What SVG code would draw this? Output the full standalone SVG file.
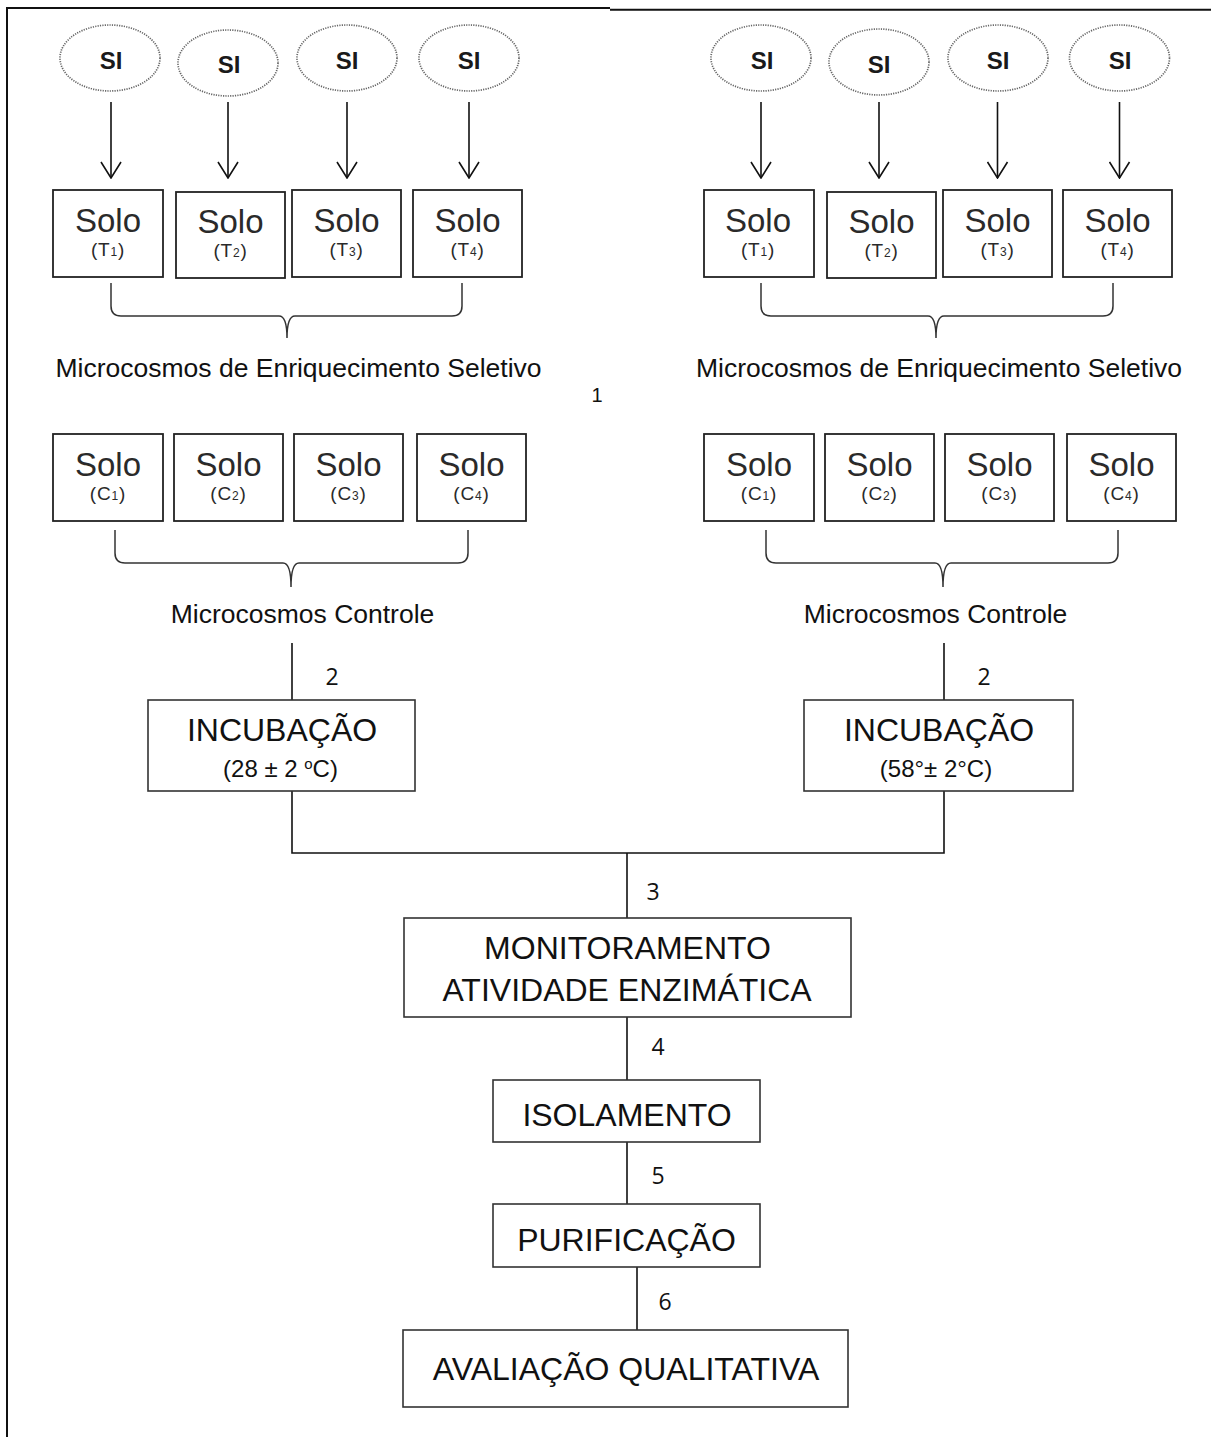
<svg xmlns="http://www.w3.org/2000/svg" width="1211" height="1437" viewBox="0 0 1211 1437">
<defs>
<style>
.box{fill:#fff;stroke:#222;stroke-width:1.8}
.pbox{fill:#fff;stroke:#333;stroke-width:1.6}
.si{fill:#fff;stroke:#666;stroke-width:1.7;stroke-dasharray:1.2 1.2}
.ln{fill:none;stroke:#111;stroke-width:1.6}
.br{fill:none;stroke:#333;stroke-width:1.5}
.border{fill:none;stroke:#111;stroke-width:2}
text{font-family:"Liberation Sans",Arial,sans-serif;fill:#111;text-anchor:middle}
.sit{font-weight:bold;font-size:24px;fill:#1a1a1a}
.solo{font-size:33px;fill:#2a2a2a}
.sub{font-size:19px;fill:#2a2a2a;letter-spacing:0.8px}
.lab{font-size:26.5px}
.num{font-family:"Open Sans","Noto Sans",sans-serif;font-size:23px}
.one{font-size:20px}
.big{font-size:32px}
.tmp{font-size:24px}
</style>
<marker id="ah" viewBox="-1 -11 18 22" refX="16" refY="0" markerWidth="18" markerHeight="22" markerUnits="userSpaceOnUse" orient="auto">
<path d="M0,-10 L16,0 L0,10" fill="none" stroke="#111" stroke-width="1.6"/>
</marker>
</defs>
<rect width="1211" height="1437" fill="#fff"/>
<g id="border">
<path class="border" d="M7,1437 L7,8 L610,8" stroke="#222" stroke-width="1.6"/>
<path class="border" d="M610,9.7 L1211,9.7"/>
</g>

<g id="connectors">
<line class="ln" x1="111" y1="102" x2="111" y2="178" marker-end="url(#ah)"/>
<line class="ln" x1="228" y1="102" x2="228" y2="178" marker-end="url(#ah)"/>
<line class="ln" x1="347" y1="102" x2="347" y2="178" marker-end="url(#ah)"/>
<line class="ln" x1="469" y1="102" x2="469" y2="178" marker-end="url(#ah)"/>
<line class="ln" x1="761" y1="102" x2="761" y2="178" marker-end="url(#ah)"/>
<line class="ln" x1="879" y1="102" x2="879" y2="178" marker-end="url(#ah)"/>
<line class="ln" x1="997.5" y1="102" x2="997.5" y2="178" marker-end="url(#ah)"/>
<line class="ln" x1="1119.5" y1="102" x2="1119.5" y2="178" marker-end="url(#ah)"/>
<path class="br" d="M111,283 L111,306 Q111,316 121,316 L279,316 Q287,316 287,338 Q287,316 295,316 L452,316 Q462,316 462,306 L462,283"/>
<path class="br" d="M761,283 L761,306 Q761,316 771,316 L928,316 Q936,316 936,338 Q936,316 944,316 L1103,316 Q1113,316 1113,306 L1113,283"/>
<path class="br" d="M115,530 L115,553 Q115,563 125,563 L283,563 Q291,563 291,587 Q291,563 299,563 L458,563 Q468,563 468,553 L468,530"/>
<path class="br" d="M766,530 L766,553 Q766,563 776,563 L935,563 Q943,563 943,587 Q943,563 951,563 L1108,563 Q1118,563 1118,553 L1118,530"/>
<line class="ln" x1="292" y1="643" x2="292" y2="700"/>
<line class="ln" x1="944" y1="643" x2="944" y2="700"/>
<path class="ln" d="M292,791 L292,853 L944,853 L944,791"/>
<line class="ln" x1="627" y1="853" x2="627" y2="918"/>
<line class="ln" x1="627" y1="1017" x2="627" y2="1080"/>
<line class="ln" x1="627" y1="1142" x2="627" y2="1204"/>
<line class="ln" x1="637" y1="1267" x2="637" y2="1330"/>
<text class="one" x="597" y="402">1</text>
<text class="num" x="332" y="685">2</text>
<text class="num" x="984" y="685">2</text>
<text class="num" x="653" y="900">3</text>
<text class="num" x="658" y="1055">4</text>
<text class="num" x="658" y="1184">5</text>
<text class="num" x="665" y="1310">6</text>
</g>

<g id="si-l1"><ellipse class="si" cx="110" cy="58" rx="50" ry="33"/><text class="sit" x="111" y="69">SI</text></g>
<g id="si-l2"><ellipse class="si" cx="228" cy="63" rx="50" ry="33"/><text class="sit" x="229" y="73">SI</text></g>
<g id="si-l3"><ellipse class="si" cx="347" cy="58" rx="50" ry="33"/><text class="sit" x="347" y="69">SI</text></g>
<g id="si-l4"><ellipse class="si" cx="469" cy="58" rx="50" ry="33"/><text class="sit" x="469" y="69">SI</text></g>
<g id="si-r1"><ellipse class="si" cx="761" cy="58" rx="50" ry="33"/><text class="sit" x="762" y="69">SI</text></g>
<g id="si-r2"><ellipse class="si" cx="879" cy="62" rx="50" ry="33"/><text class="sit" x="879" y="73">SI</text></g>
<g id="si-r3"><ellipse class="si" cx="998" cy="58" rx="50" ry="33"/><text class="sit" x="998" y="69">SI</text></g>
<g id="si-r4"><ellipse class="si" cx="1119.5" cy="58" rx="50" ry="33"/><text class="sit" x="1120" y="69">SI</text></g>

<g id="solo-lt1"><rect class="box" x="53" y="190" width="110" height="87"/><text class="solo" x="108" y="232">Solo</text><text class="sub" x="108" y="256">(T<tspan font-size="12px">1</tspan>)</text></g>
<g id="solo-lt2"><rect class="box" x="176" y="192" width="109" height="86"/><text class="solo" x="230.5" y="233">Solo</text><text class="sub" x="230.5" y="257">(T<tspan font-size="12px">2</tspan>)</text></g>
<g id="solo-lt3"><rect class="box" x="292" y="190" width="109" height="87"/><text class="solo" x="346.5" y="232">Solo</text><text class="sub" x="346.5" y="256">(T<tspan font-size="12px">3</tspan>)</text></g>
<g id="solo-lt4"><rect class="box" x="413" y="190" width="109" height="87"/><text class="solo" x="467.5" y="232">Solo</text><text class="sub" x="467.5" y="256">(T<tspan font-size="12px">4</tspan>)</text></g>

<g id="solo-rt1"><rect class="box" x="704" y="190" width="110" height="87"/><text class="solo" x="758" y="232">Solo</text><text class="sub" x="758" y="256">(T<tspan font-size="12px">1</tspan>)</text></g>
<g id="solo-rt2"><rect class="box" x="827" y="192" width="109" height="86"/><text class="solo" x="881.5" y="233">Solo</text><text class="sub" x="881.5" y="257">(T<tspan font-size="12px">2</tspan>)</text></g>
<g id="solo-rt3"><rect class="box" x="943" y="190" width="109" height="87"/><text class="solo" x="997.5" y="232">Solo</text><text class="sub" x="997.5" y="256">(T<tspan font-size="12px">3</tspan>)</text></g>
<g id="solo-rt4"><rect class="box" x="1063" y="190" width="109" height="87"/><text class="solo" x="1117.5" y="232">Solo</text><text class="sub" x="1117.5" y="256">(T<tspan font-size="12px">4</tspan>)</text></g>

<g id="label-sel-l"><text class="lab" x="298.5" y="377">Microcosmos de Enriquecimento Seletivo</text></g>
<g id="label-sel-r"><text class="lab" x="939" y="377">Microcosmos de Enriquecimento Seletivo</text></g>

<g id="solo-lc1"><rect class="box" x="53" y="434" width="110" height="87"/><text class="solo" x="108" y="476">Solo</text><text class="sub" x="108" y="500">(C<tspan font-size="12px">1</tspan>)</text></g>
<g id="solo-lc2"><rect class="box" x="174" y="434" width="109" height="87"/><text class="solo" x="228.5" y="476">Solo</text><text class="sub" x="228.5" y="500">(C<tspan font-size="12px">2</tspan>)</text></g>
<g id="solo-lc3"><rect class="box" x="294" y="434" width="109" height="87"/><text class="solo" x="348.5" y="476">Solo</text><text class="sub" x="348.5" y="500">(C<tspan font-size="12px">3</tspan>)</text></g>
<g id="solo-lc4"><rect class="box" x="417" y="434" width="109" height="87"/><text class="solo" x="471.5" y="476">Solo</text><text class="sub" x="471.5" y="500">(C<tspan font-size="12px">4</tspan>)</text></g>

<g id="solo-rc1"><rect class="box" x="704" y="434" width="110" height="87"/><text class="solo" x="759" y="476">Solo</text><text class="sub" x="759" y="500">(C<tspan font-size="12px">1</tspan>)</text></g>
<g id="solo-rc2"><rect class="box" x="825" y="434" width="109" height="87"/><text class="solo" x="879.5" y="476">Solo</text><text class="sub" x="879.5" y="500">(C<tspan font-size="12px">2</tspan>)</text></g>
<g id="solo-rc3"><rect class="box" x="945" y="434" width="109" height="87"/><text class="solo" x="999.5" y="476">Solo</text><text class="sub" x="999.5" y="500">(C<tspan font-size="12px">3</tspan>)</text></g>
<g id="solo-rc4"><rect class="box" x="1067" y="434" width="109" height="87"/><text class="solo" x="1121.5" y="476">Solo</text><text class="sub" x="1121.5" y="500">(C<tspan font-size="12px">4</tspan>)</text></g>

<g id="label-ctrl-l"><text class="lab" x="302.5" y="623">Microcosmos Controle</text></g>
<g id="label-ctrl-r"><text class="lab" x="935.5" y="623">Microcosmos Controle</text></g>

<g id="incub-l"><rect class="pbox" x="148" y="700" width="267" height="91"/><text class="big" x="282" y="741">INCUBAÇÃO</text><text class="tmp" x="280.5" y="777">(28 ± 2 <tspan font-size="15px" dy="-8">o</tspan><tspan dy="8">C)</tspan></text></g>
<g id="incub-r"><rect class="pbox" x="804" y="700" width="269" height="91"/><text class="big" x="939" y="741">INCUBAÇÃO</text><text class="tmp" x="936" y="777">(58°± 2°C)</text></g>

<g id="monit"><rect class="pbox" x="404" y="918" width="447" height="99"/><text class="big" x="627.5" y="959">MONITORAMENTO</text><text class="big" x="627" y="1001">ATIVIDADE ENZIMÁTICA</text></g>
<g id="isol"><rect class="pbox" x="493" y="1080" width="267" height="62"/><text class="big" x="627" y="1126">ISOLAMENTO</text></g>
<g id="purif"><rect class="pbox" x="493" y="1204" width="267" height="63"/><text class="big" x="626.5" y="1251">PURIFICAÇÃO</text></g>
<g id="aval"><rect class="pbox" x="403" y="1330" width="445" height="77"/><text class="big" x="626" y="1380">AVALIAÇÃO QUALITATIVA</text></g>
</svg>
